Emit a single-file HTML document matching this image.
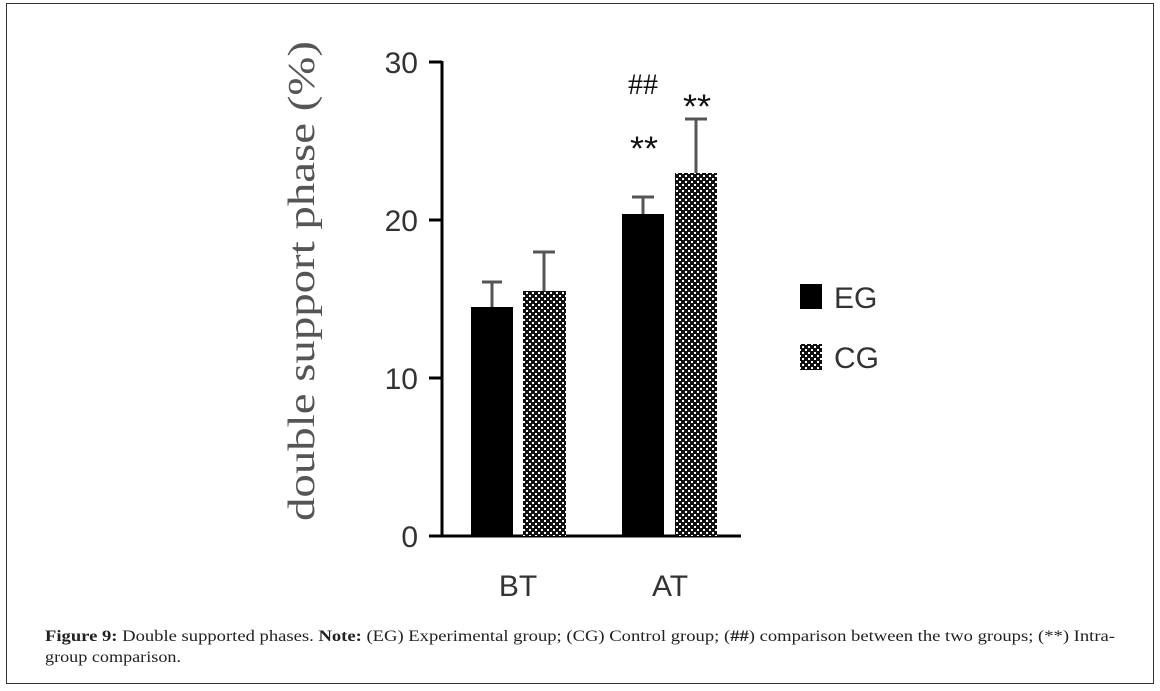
<!DOCTYPE html>
<html><head><meta charset="utf-8"><style>
html,body{margin:0;padding:0;background:#fff;}
svg{display:block;}
</style></head><body>
<svg width="1160" height="691" viewBox="0 0 1160 691" xmlns="http://www.w3.org/2000/svg">
<defs>
<pattern id="p" width="6" height="6" patternUnits="userSpaceOnUse">
<rect width="6" height="6" fill="#111"/>
<rect x="1" y="1" width="2" height="2" fill="#fff"/>
<rect x="4" y="4" width="2" height="2" fill="#fff"/>
</pattern>
</defs>
<rect x="6.5" y="3.5" width="1147" height="680" fill="#fff" stroke="#333" stroke-width="1"/>
<g stroke="#000" stroke-width="3" fill="none">
<line x1="442" y1="61" x2="442" y2="537"/>
<line x1="441" y1="536" x2="741" y2="536"/>
<line x1="429" y1="62" x2="442" y2="62"/>
<line x1="429" y1="220" x2="442" y2="220"/>
<line x1="429" y1="378" x2="442" y2="378"/>
<line x1="429" y1="536" x2="442" y2="536"/>
</g>
<g font-family="Liberation Sans, sans-serif" font-size="30" fill="#333" text-anchor="end">
<text x="418" y="73">30</text>
<text x="418" y="231">20</text>
<text x="418" y="389">10</text>
<text x="418" y="547">0</text>
</g>
<text transform="translate(314,281) rotate(-90)" text-anchor="middle" font-family="Liberation Serif, serif" font-size="38" fill="#555" textLength="480" lengthAdjust="spacingAndGlyphs">double support phase (%)</text>
<g stroke="#555" stroke-width="3">
<line x1="492" y1="307" x2="492" y2="282"/><line x1="482" y1="282" x2="502" y2="282"/>
<line x1="544" y1="291" x2="544" y2="252"/><line x1="533" y1="252" x2="555" y2="252"/>
<line x1="643" y1="214" x2="643" y2="197"/><line x1="632" y1="197" x2="654" y2="197"/>
<line x1="696" y1="173" x2="696" y2="119"/><line x1="685" y1="119" x2="707" y2="119"/>
</g>
<rect x="471" y="307" width="42" height="229" fill="#000"/>
<rect x="523" y="291" width="43" height="245" fill="url(#p)"/>
<rect x="622" y="214" width="42" height="322" fill="#000"/>
<rect x="675" y="173" width="42" height="363" fill="url(#p)"/>
<g font-family="Liberation Sans, sans-serif" fill="#111" text-anchor="middle">
<text x="643" y="94" font-size="30" font-family="Liberation Serif, serif" textLength="30" lengthAdjust="spacingAndGlyphs">##</text>
<text x="644" y="160" font-size="34" textLength="28" lengthAdjust="spacingAndGlyphs">**</text>
<text x="697" y="118" font-size="34" textLength="28" lengthAdjust="spacingAndGlyphs">**</text>
</g>
<g font-family="Liberation Sans, sans-serif" font-size="30" fill="#333" text-anchor="middle">
<text x="518" y="596">BT</text>
<text x="670" y="596">AT</text>
</g>
<rect x="800" y="284" width="22" height="25" fill="#000"/>
<rect x="800" y="344" width="22" height="26" fill="url(#p)"/>
<g font-family="Liberation Sans, sans-serif" font-size="30" fill="#333">
<text x="834" y="308">EG</text>
<text x="834" y="368">CG</text>
</g>
<g font-family="Liberation Serif, serif" font-size="16" fill="#222">
<text x="45" y="641" textLength="1070" lengthAdjust="spacingAndGlyphs"><tspan font-weight="bold">Figure 9:</tspan> Double supported phases. <tspan font-weight="bold">Note:</tspan> (EG) Experimental group; (CG) Control group; (<tspan font-weight="bold">##</tspan>) comparison between the two groups; (**) Intra-</text>
<text x="45" y="662" textLength="136" lengthAdjust="spacingAndGlyphs">group comparison.</text>
</g>
</svg>
</body></html>
